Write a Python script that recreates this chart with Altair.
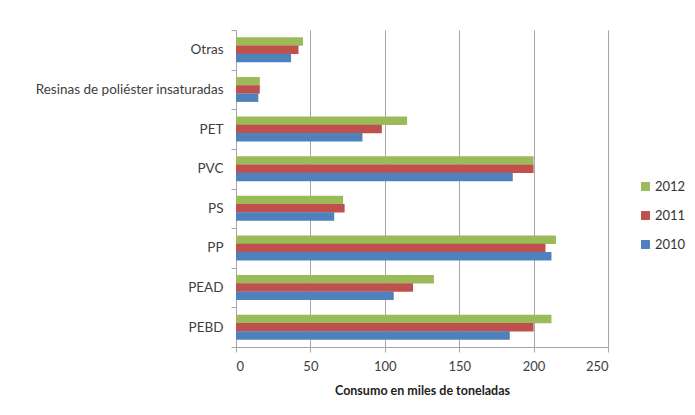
import altair as alt
import pandas as pd

categories = ["Otras", "Resinas de poliéster insaturadas", "PET", "PVC", "PS", "PP", "PEAD", "PEBD"]
years = ["2012", "2011", "2010"]
v2012 = [45, 16, 115, 200, 72, 215, 133, 212]
v2011 = [42, 16, 98, 200, 73, 208, 119, 200]
v2010 = [37, 15, 85, 186, 66, 212, 106, 184]
colors = ["#9BBB59", "#C0504D", "#4F81BD"]
x_ticks = [0, 50, 100, 150, 200, 250]

rows = []
for yr, vals in zip(years, [v2012, v2011, v2010]):
    for c, v in zip(categories, vals):
        rows.append({"cat": c, "year": yr, "value": v})
df = pd.DataFrame(rows)

FONT = "Lato"

chart = alt.Chart(df).mark_bar(size=8.4).encode(
    y=alt.Y("cat:N", sort=categories, title=None,
            scale=alt.Scale(paddingInner=0, paddingOuter=0),
            axis=alt.Axis(tickBand="extent", grid=False, domainColor="#a6a6a6",
                          tickColor="#a6a6a6", tickSize=5, labelPadding=8,
                          labelFontSize=13.5, labelColor="#404040", labelFont=FONT,
                          labelLimit=300)),
    yOffset=alt.YOffset("year:N", sort=years,
                        scale=alt.Scale(paddingInner=0, paddingOuter=0.9)),
    x=alt.X("value:Q", title="Consumo en miles de toneladas",
            scale=alt.Scale(domain=[0, 250], nice=False),
            axis=alt.Axis(values=x_ticks, grid=True, gridColor="#a6a6a6",
                          domainColor="#a6a6a6", tickColor="#a6a6a6", tickSize=5,
                          labelFontSize=13, labelColor="#404040", labelFont=FONT,
                          labelPadding=8,
                          titleFont=FONT, titleFontSize=12.5, titleFontWeight="bold",
                          titleColor="#222222", titlePadding=11)),
    color=alt.Color("year:N", sort=years,
                    scale=alt.Scale(domain=years, range=colors),
                    legend=alt.Legend(title=None, orient="none", legendX=403, legendY=150,
                                      symbolType="square", symbolSize=80,
                                      symbolStrokeWidth=0, rowPadding=15,
                                      labelFontSize=13, labelFont=FONT,
                                      labelColor="#333333", labelOffset=3)),
).properties(
    width=372, height=317,
    autosize=alt.AutoSizeParams(type="none"),
    padding={"left": 228, "top": 22, "right": 79, "bottom": 56},
).configure_view(stroke=None)

chart.save("out.html", embed_options={"renderer": "svg", "actions": False})
